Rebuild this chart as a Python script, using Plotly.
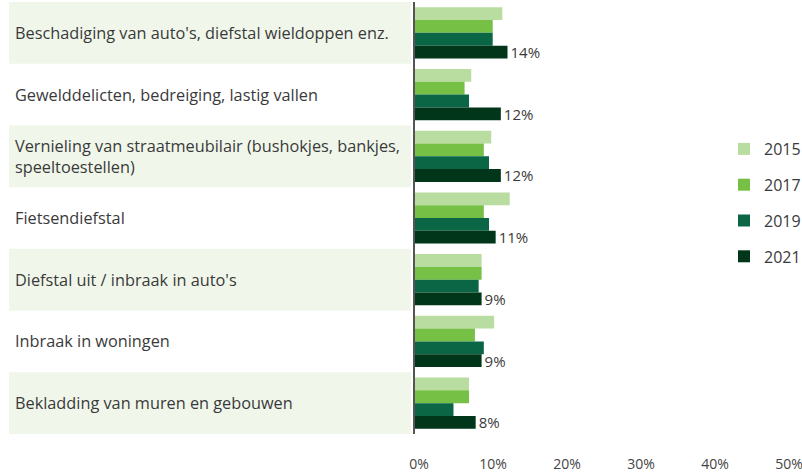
import plotly.graph_objects as go

categories = [
    "Beschadiging van auto's, diefstal wieldoppen enz.",
    "Gewelddelicten, bedreiging, lastig vallen",
    "Vernieling van straatmeubilair (bushokjes, bankjes,<br>speeltoestellen)",
    "Fietsendiefstal",
    "Diefstal uit / inbraak in auto's",
    "Inbraak in woningen",
    "Bekladding van muren en gebouwen",
]
years = ["2015", "2017", "2019", "2021"]
v2015 = [11.8, 7.6, 10.3, 12.8, 9.0, 10.7, 7.3]
v2017 = [10.5, 6.7, 9.3, 9.3, 9.0, 8.1, 7.3]
v2019 = [10.5, 7.3, 10.0, 10.0, 8.6, 9.3, 5.2]
v2021 = [12.5, 11.6, 11.6, 10.9, 9.0, 9.0, 8.2]
labels2021 = ["14%", "12%", "12%", "11%", "9%", "9%", "8%"]
colors = ["#b9dca0", "#76c045", "#0a6644", "#01361a"]
tick_vals = [0, 10, 20, 30, 40, 50]
tick_text = ["0%", "10%", "20%", "30%", "40%", "50%"]

FONT = "'Open Sans', Lato, sans-serif"
W, H = 802, 473
ML, MR, MT, MB = 415, 4, 2, 39
PW = W - ML - MR
PH = H - MT - MB

ycats = list(range(len(categories)))

fig = go.Figure()
series = [v2015, v2017, v2019, v2021]
for i, (yr, vals) in enumerate(zip(years, series)):
    fig.add_trace(go.Bar(
        y=ycats, x=vals, name=yr, orientation="h",
        marker=dict(color=colors[i], line=dict(width=0)),
        legendgroup=yr,
        text=labels2021 if yr == "2021" else None,
        textposition="outside" if yr == "2021" else "none",
        textfont=dict(size=15, color="#3a3a3a", family=FONT),
        constraintext="none",
        cliponaxis=False,
        hoverinfo="x+name",
    ))

shapes = []
for k in range(0, len(categories), 2):
    shapes.append(dict(
        type="rect", xref="paper", yref="y",
        x0=(9 - ML) / PW, x1=(411 - ML) / PW,
        y0=k - 0.5, y1=k + 0.5,
        fillcolor="#f0f7ea", line=dict(width=0), layer="below",
    ))

annotations = []
for k, c in enumerate(categories):
    annotations.append(dict(
        xref="paper", yref="y", x=(13 - ML) / PW, y=k,
        text=c, showarrow=False, xanchor="left", yanchor="middle", align="left",
        font=dict(size=16.3, color="#3a3a3a", family=FONT),
    ))

fig.update_layout(
    width=W, height=H,
    margin=dict(l=ML, r=MR, t=MT, b=MB, autoexpand=False),
    plot_bgcolor="white", paper_bgcolor="white",
    barmode="group", bargap=0.17, bargroupgap=0,
    shapes=shapes, annotations=annotations,
    showlegend=True,
    legend=dict(
        x=(724 - ML) / PW, y=1 - (132 - MT) / PH, xanchor="left", yanchor="top",
        traceorder="grouped", tracegroupgap=12, itemwidth=30,
        font=dict(size=16, color="#3a3a3a", family=FONT),
        bgcolor="rgba(0,0,0,0)",
    ),
    font=dict(family=FONT),
)
fig.update_xaxes(
    range=[0, PW / 7.4], tickvals=tick_vals, ticktext=tick_text,
    showgrid=False, zeroline=False, showline=False, automargin=False,
    ticklabeloverflow="allow",
    tickfont=dict(size=14, color="#444444", family=FONT),
    ticklabelstandoff=20, ticklabelshift=4,
)
fig.update_yaxes(
    range=[len(categories) - 0.5, -0.5], showticklabels=False,
    showgrid=False, zeroline=False, automargin=False,
    showline=True, linecolor="#555555", linewidth=2,
)

fig.write_html("out.html", config={"displayModeBar": False},
               post_script="document.body.style.margin='0';")
